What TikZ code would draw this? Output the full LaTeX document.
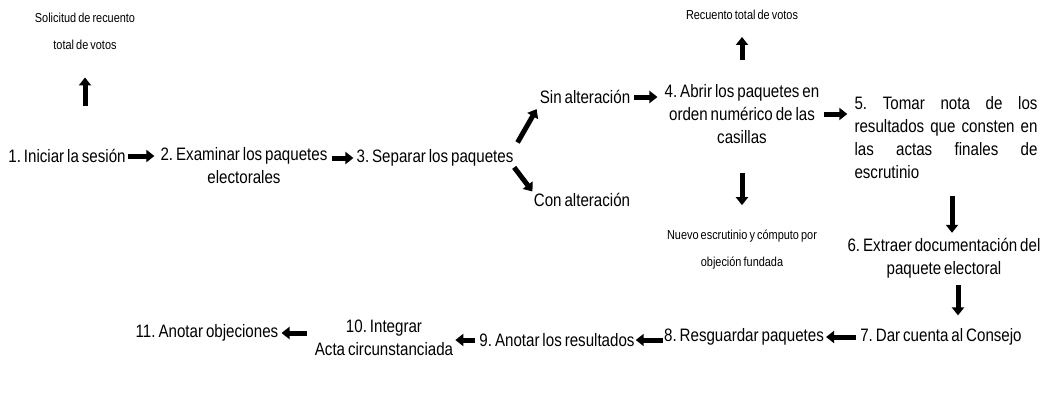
\documentclass[tikz,border=0pt]{standalone}
\usepackage{fontspec}
\setmainfont[FakeStretch=0.84,WordSpace=0.7]{Liberation Sans}
\usetikzlibrary{arrows.meta}
\begin{document}
\frenchspacing
\begin{tikzpicture}[x=1pt,y=-1pt,
  txt/.style={inner sep=0pt, font=\fontsize{18}{23}\selectfont, align=center},
  small/.style={inner sep=0pt, font=\fontsize{13}{27}\selectfont, align=center},
  arr/.style={line width=5pt, -{Triangle[width=12pt,length=8pt]}}]
\useasboundingbox (0,0) rectangle (1047,394);
\node[small] (sol) at (85,31) {Solicitud de recuento\\total de votos};
\node[txt] (n1) at (67,156) {1. Iniciar la sesión};
\node[txt] (n2) at (244,166) {2. Examinar los paquetes\\electorales};
\node[txt] (n3) at (435,158) {3. Separar los paquetes};
\node[txt] (sin) at (585,97) {Sin alteración};
\node[txt] (con) at (582,200) {Con alteración};
\node[txt] (n4) at (742,114) {4. Abrir los paquetes en\\orden numérico de las\\casillas};
\node[small] (rec) at (742,15) {Recuento total de votos};
\node[small] (nue) at (742,250) {Nuevo escrutinio y cómputo por\\objeción fundada};
\node[txt, align=left] (n5) at (946,138) {\makebox[183pt][s]{5. Tomar nota de los}\\\makebox[183pt][s]{resultados que consten en}\\\makebox[183pt][s]{las actas finales de}\\escrutinio};
\node[txt] (n6) at (944,258) {6. Extraer documentación del\\paquete electoral};
\node[txt] (n7) at (941,337) {7. Dar cuenta al Consejo};
\node[txt] (n8) at (744,337) {8. Resguardar paquetes};
\node[txt] (n9) at (557,340) {9. Anotar los resultados};
\node[txt] (n10) at (384,338) {10. Integrar\\Acta circunstanciada};
\node[txt] (n11) at (207,333) {11. Anotar objeciones};

\draw[arr, shorten <=43pt, shorten >=28pt] (sol.south |- n1.north) -- (sol.south);
\draw[arr, shorten <=2pt, shorten >=6pt] (n1.east) -- (n1.east -| n2.west);
\draw[arr, shorten <=4pt, shorten >=3pt] (n2.east |- n3.west) -- (n3.west);
\draw[arr, shorten <=8pt, shorten >=6pt] (n3.north east) -- (sin.south west);
\draw[arr, shorten <=1pt, shorten >=2pt] (n3.south east) -- (con.north west);
\draw[arr, shorten <=4pt, shorten >=7pt] (sin.east) -- (sin.east -| n4.west);
\draw[arr, shorten <=24pt, shorten >=17pt] (n4.north) -- (rec.south);
\draw[arr, shorten <=29pt, shorten >=25pt] (n4.south) -- (nue.north);
\draw[arr, shorten <=4pt, shorten >=7pt] (n4.east) -- (n4.east -| n5.west);
\draw[arr, shorten <=17pt, shorten >=5pt] ([xshift=6pt]n5.south) -- ([xshift=6pt]n5.south |- n6.north);
\draw[arr, shorten <=7pt, shorten >=13pt] ([xshift=14pt]n6.south) -- ([xshift=14pt]n6.south |- n7.north);
\draw[arr, shorten <=4pt, shorten >=2pt] (n7.west) -- (n7.west -| n8.east);
\draw[arr, shorten <=1pt, shorten >=1pt] (n8.west |- n9.east) -- (n9.east);
\draw[arr, shorten <=4pt, shorten >=2pt] (n9.west) -- (n9.west -| n10.east);
\draw[arr, shorten <=8pt, shorten >=3pt] (n10.west |- n11.east) -- (n11.east);
\end{tikzpicture}
\end{document}
